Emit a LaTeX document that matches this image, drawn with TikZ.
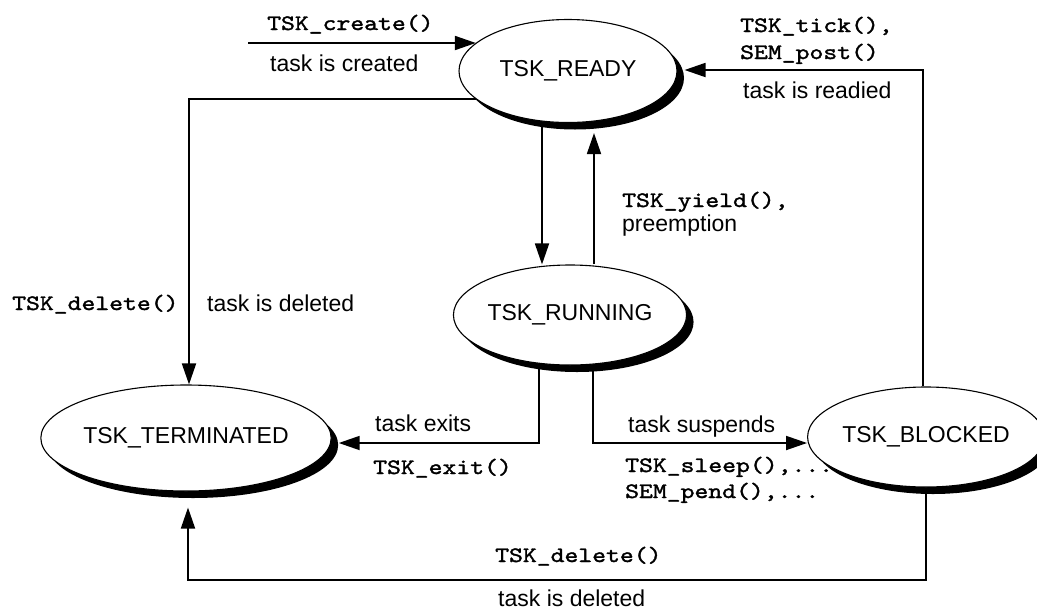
\documentclass[tikz,border=0pt]{standalone}
\usepackage{fontspec}
\setmainfont{Liberation Sans}
\newfontfamily\codefont{lmmono10-regular.otf}[FakeStretch=1.2, FakeBold=1.6]
\usetikzlibrary{arrows.meta,shapes.geometric,shadows}

\begin{document}
\begin{tikzpicture}[x=1pt,y=-1pt,
  state/.style={ellipse, draw=black, line width=1.1pt, fill=white, inner sep=0pt,
    font=\fontsize{23}{27}\selectfont,
    drop shadow={shadow xshift=7pt, shadow yshift=-7pt, fill=black, opacity=1}},
  flow/.style={line width=1.8pt, -{Triangle[length=21pt,width=14pt]}},
  txt/.style={anchor=base west, inner sep=0pt, font=\fontsize{23}{27}\selectfont},
  code/.style={anchor=base west, inner sep=0pt, font=\codefont\fontsize{22}{26}\selectfont},
]
\useasboundingbox (0,0) rectangle (1037,611);

% task states
\node[state, minimum width=218pt, minimum height=103pt] (ready)      at (568,71)  {TSK\_READY};
\node[state, minimum width=212pt, minimum height=100pt] (running)    at (570,315) {TSK\_RUNNING};
\node[state, minimum width=242pt, minimum height=106pt] (terminated) at (186,438) {TSK\_TERMINATED};
\node[state, minimum width=214pt, minimum height=100pt] (blocked)    at (926,437) {TSK\_BLOCKED};

% helper points
\coordinate (createsrc) at (248,43);
\coordinate (readyfoot) at ([yshift=-10pt]ready.south);
\coordinate (termfoot)  at ([xshift=2pt,yshift=-16pt]terminated.south);
\coordinate (lowrail)   at (0,580);

% transitions
\draw[flow] (createsrc) -- (createsrc -| ready.163);
\draw[flow] (ready.197) -| ([xshift=3pt]terminated.north);
\draw[flow] ([xshift=-26pt]ready.south) -- ([xshift=-26pt]ready.south |- running.north);
\draw[flow] ([xshift=24pt]running.north) -- ([xshift=24pt]running.north |- readyfoot);
\draw[flow] ([xshift=-3pt]blocked.north) |- ([xshift=7pt,yshift=1pt]ready.east);
\draw[flow] ([xshift=-31pt]running.south) |- ([xshift=7pt,yshift=-5pt]terminated.east);
\draw[flow] ([xshift=23pt]running.south) |- ([yshift=-6pt]blocked.west);
\draw[flow] (blocked.south) -- (blocked.south |- lowrail) -- (termfoot |- lowrail) -- (termfoot);

% transition labels
\node[code] (lcreate)   at (267,30)  {TSK\_create()};
\node[txt]  (lcreated)  at (270,71)  {task is created};
\node[code] (ltick)     at (740,32)  {TSK\_tick(),};
\node[code] (lpost)     at (740,59)  {SEM\_post()};
\node[txt]  (lreadied)  at (743,98)  {task is readied};
\node[code] (lyield)    at (622,207) {TSK\_yield(),};
\node[txt]  (lpreempt)  at (622,231) {preemption};
\node[code] (ldelete1)  at (12,310)  {TSK\_delete()};
\node[txt]  (ldeleted1) at (207,311) {task is deleted};
\node[txt]  (lexits)    at (375,431) {task exits};
\node[code] (lexit)     at (373,474) {TSK\_exit()};
\node[txt]  (lsuspends) at (628,432) {task suspends};
\node[code] (lsleep)    at (625,472) {TSK\_sleep(),...};
\node[code] (lpend)     at (625,498) {SEM\_pend(),...};
\node[code] (ldelete2)  at (495,562) {TSK\_delete()};
\node[txt]  (ldeleted2) at (498,606) {task is deleted};
\end{tikzpicture}
\end{document}
